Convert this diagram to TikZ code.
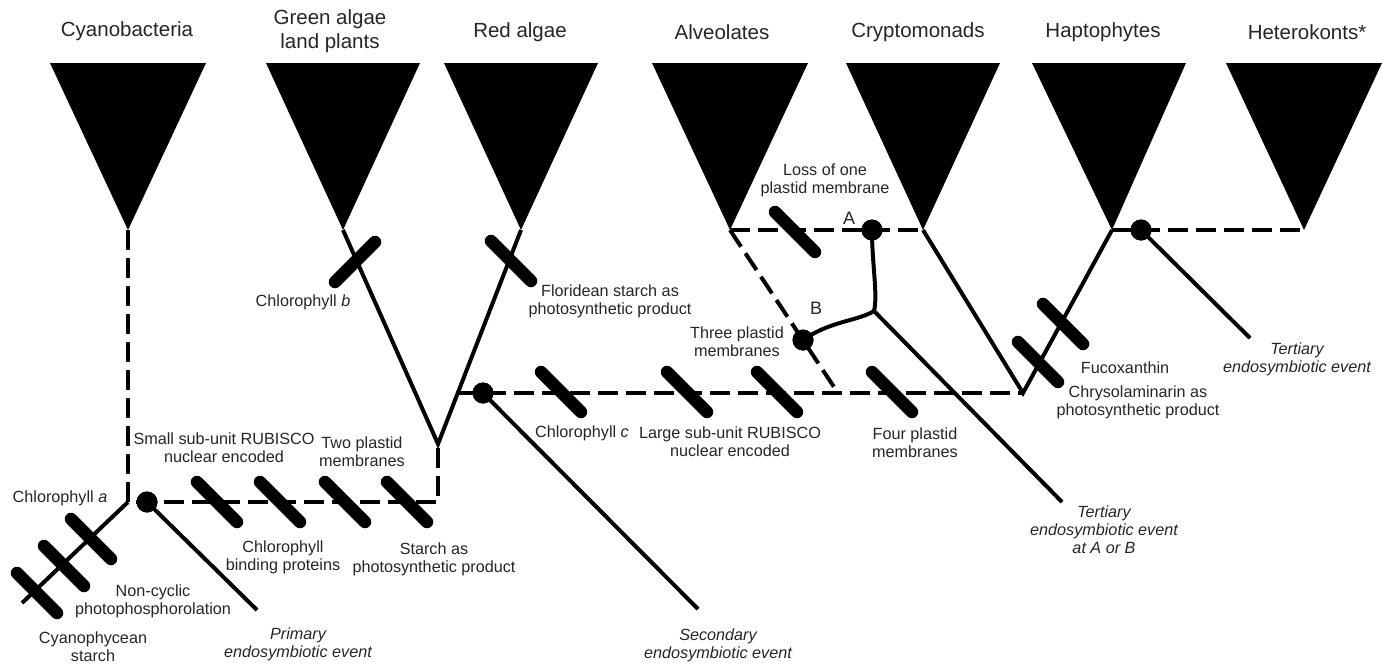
\documentclass[tikz,border=0pt]{standalone}
\usepackage{fontspec}
\setmainfont{Liberation Sans}
\begin{document}
\begin{tikzpicture}[x=1pt,y=-1pt,
  solidline/.style={line width=4pt},
  dashline/.style={line width=4pt,dash pattern=on 20pt off 8pt},
  hashbar/.style={line width=12.5pt,line cap=round},
  evdot/.style={circle,fill=black,inner sep=0pt,minimum size=21pt},
  lab/.style={font=\fontsize{16.2}{18}\selectfont,align=center,inner sep=0pt,text=black!85},
  ilab/.style={lab,font=\fontsize{16.2}{18}\selectfont\itshape},
  ttl/.style={font=\fontsize{20.5}{24}\selectfont,align=center,inner sep=0pt,text=black!85},
  letter/.style={font=\fontsize{18}{20}\selectfont,inner sep=0pt,text=black!85},
  clade/.style={fill=black}]
\useasboundingbox[fill=white] (0,0) rectangle (1382,664);

% apex coordinates
\coordinate (cyA) at (128,230);
\coordinate (grA) at (343,230);
\coordinate (reA) at (521,230);
\coordinate (alA) at (730,230);
\coordinate (crA) at (923,230);
\coordinate (haA) at (1112,230);
\coordinate (heA) at (1304,230);

% clade triangles
\fill[clade] (50,63) -- (206,63) -- (cyA) -- cycle;
\fill[clade] (266,63) -- (420,63) -- (grA) -- cycle;
\fill[clade] (444,63) -- (598,63) -- (reA) -- cycle;
\fill[clade] (652,63) -- (808,63) -- (alA) -- cycle;
\fill[clade] (846,63) -- (1000,63) -- (crA) -- cycle;
\fill[clade] (1032,63) -- (1186,63) -- (haA) -- cycle;
\fill[clade] (1226,63) -- (1382,63) -- (heA) -- cycle;

% titles
\node[ttl] (tcy) at (127,31) {Cyanobacteria};
\node[ttl] (tgr) at (330,31) {Green algae\\land plants};
\node[ttl] (tre) at (520,32) {Red algae};
\node[ttl] (tal) at (722,32) {Alveolates};
\node[ttl] (tcr) at (918,32) {Cryptomonads};
\node[ttl] (tha) at (1103,32) {Haptophytes};
\node[ttl] (the) at (1307,32) {Heterokonts*};

% junction coordinates
\coordinate (gV) at (438,444);
\coordinate (c1) at (128,502);
\coordinate (c2) at (438,502);
\coordinate (root) at (22,603);
\coordinate (rJ) at (458,393);
\coordinate (alJ) at (838,393);
\coordinate (hV) at (1023,393);
\coordinate (J) at (874,311);
\coordinate (pEnd) at (257,610);
\coordinate (sEnd) at (698,609);
\coordinate (tEnd) at (1062,502);
\coordinate (hEnd) at (1250,338);

% event dots
\node[evdot] (pdot) at (147,502) {};
\node[evdot] (sdot) at (483,393) {};
\node[evdot] (Adot) at (872,230) {};
\node[evdot] (Bdot) at (803,340) {};
\node[evdot] (hdot) at (1141,230) {};

% dashed branches
\draw[dashline] (cyA) -- (c1) -- (c2) -- (gV);
\draw[dashline] (rJ) -- (hV);
\draw[dashline] (alA) -- (alJ);
\draw[dashline] (alA) -- (crA);
\draw[dashline] (haA) -- (heA);

% solid branches
\draw[solidline] (c1) -- (root);
\draw[solidline] (grA) -- (gV) -- (reA);
\draw[solidline] (crA) -- (hV) -- (haA);
\draw[solidline] (pdot.center) -- (pEnd);
\draw[solidline] (sdot.center) -- (sEnd);
\draw[solidline] (hdot.center) -- (hEnd);
\draw[solidline,line join=round] (Adot.center) .. controls (872,265) and (878,295) .. (J)
      .. controls (858,321) and (830,321) .. (Bdot.center);
\draw[solidline] (J) -- (tEnd);

% character bars
\foreach \bx/\by in {91/539, 64/566, 37/593,
                     217/502, 280/502, 345/502, 407/502,
                     511/261, 561/392, 687/392, 777/392, 892/392,
                     795/232, 1063/324, 1038/362}
  \draw[hashbar] (\bx-20,\by-20) -- (\bx+20,\by+20);
\draw[hashbar] (355-20,262+20) -- (355+20,262-20);

% dots on top
\fill (pdot) circle (10.5pt);
\fill (sdot) circle (10.5pt);
\fill (Adot) circle (10.5pt);
\fill (Bdot) circle (10.5pt);
\fill (hdot) circle (10.5pt);

% labels
\node[lab] (lchla) at (60,498) {Chlorophyll \textit{a}};
\node[lab] (lssu) at (224,448) {Small sub-unit RUBISCO\\nuclear encoded};
\node[lab] (ltwo) at (362,452) {Two plastid\\membranes};
\node[lab] (lcbp) at (283,557) {Chlorophyll\\binding proteins};
\node[lab] (lstar) at (434,559) {Starch as\\photosynthetic product};
\node[lab] (lnon) at (153,601) {Non-cyclic\\photophosphorolation};
\node[lab] (lcyst) at (93,647) {Cyanophycean\\starch};
\node[ilab] (lprim) at (298,644) {Primary\\endosymbiotic event};
\node[lab] (lchlb) at (303,302) {Chlorophyll \textit{b}};
\node[lab] (lflo) at (610,301) {Floridean starch as\\photosynthetic product};
\node[lab] (lchlc) at (582,433) {Chlorophyll \textit{c}};
\node[lab] (llsu) at (730,442) {Large sub-unit RUBISCO\\nuclear encoded};
\node[lab] (lthree) at (737,342) {Three plastid\\membranes};
\node[lab] (lloss) at (825,180) {Loss of one\\plastid membrane};
\node[letter] (lA) at (849,218) {A};
\node[letter] (lB) at (816,308) {B};
\node[lab] (lfour) at (915,443) {Four plastid\\membranes};
\node[lab] (lfuco) at (1125,368) {Fucoxanthin};
\node[lab] (lchry) at (1138,402) {Chrysolaminarin as\\photosynthetic product};
\node[ilab] (lsec) at (718,645) {Secondary\\endosymbiotic event};
\node[ilab] (lterAB) at (1104,530) {Tertiary\\endosymbiotic event\\at A or B};
\node[ilab] (lter) at (1297,359) {Tertiary\\endosymbiotic event};
\end{tikzpicture}
\end{document}
